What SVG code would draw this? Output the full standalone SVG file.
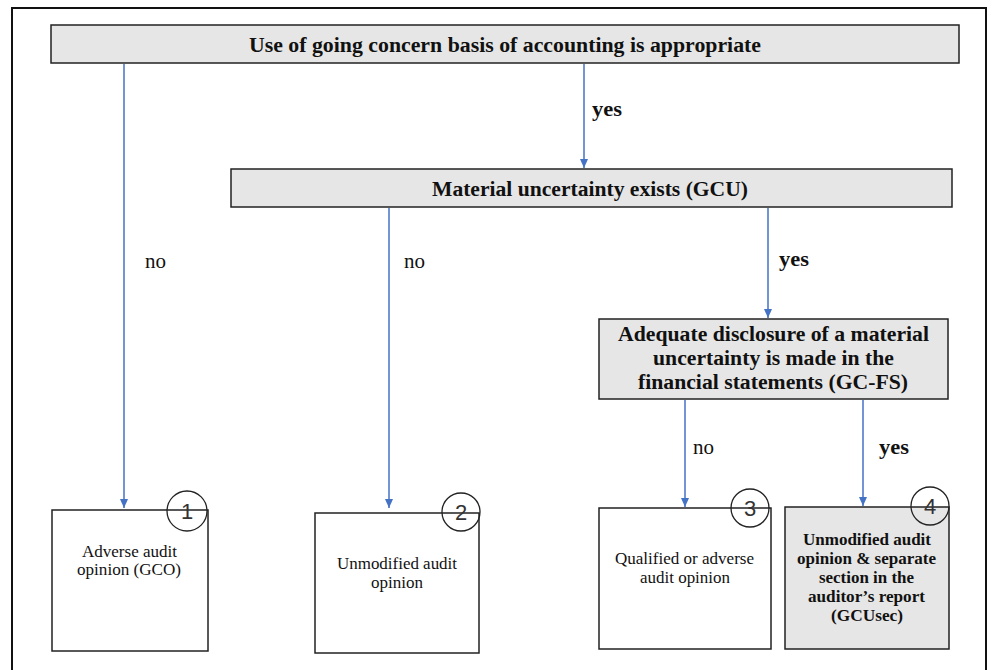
<svg xmlns="http://www.w3.org/2000/svg" width="992" height="670" viewBox="0 0 992 670">
<style>
.frame{fill:#fff;stroke:#111;stroke-width:2}
.box{fill:#fff;stroke:#222;stroke-width:1.5}
.grey{fill:#e6e6e6;stroke:#222;stroke-width:1.5}
.conn{stroke:#4472c4;stroke-width:1.5;fill:none}
.t{fill:#111;text-anchor:middle}
.hb{font-size:20.5px;font-weight:bold}
.lab{fill:#111;font-size:20px}
.sm{font-size:16px}
.num{font-size:22px;fill:#333;text-anchor:middle}
.circ{fill:none;stroke:#222;stroke-width:1.3}
</style>
<defs>
<marker id="ah" markerWidth="10" markerHeight="10" refX="9" refY="5" orient="auto" markerUnits="userSpaceOnUse">
<path d="M0,1 L9,5 L0,9 Z" fill="#4472c4"/>
</marker>
</defs>
<rect class="frame" x="12" y="8" width="974" height="664"/>
<g id="connectors">
<line class="conn" x1="124" y1="64" x2="124" y2="508" marker-end="url(#ah)"/>
<line class="conn" x1="584" y1="64" x2="584" y2="168" marker-end="url(#ah)"/>
<line class="conn" x1="389" y1="208" x2="389" y2="508" marker-end="url(#ah)"/>
<line class="conn" x1="768" y1="208" x2="768" y2="318" marker-end="url(#ah)"/>
<line class="conn" x1="685" y1="400" x2="685" y2="507" marker-end="url(#ah)"/>
<line class="conn" x1="863" y1="400" x2="863" y2="506" marker-end="url(#ah)"/>
<text class="lab" font-family="Liberation Serif" x="592" y="116" font-weight="bold" textLength="30" lengthAdjust="spacingAndGlyphs">yes</text>
<text class="lab" font-family="Liberation Serif" x="145" y="268" textLength="21" lengthAdjust="spacingAndGlyphs">no</text>
<text class="lab" font-family="Liberation Serif" x="404" y="268" textLength="21" lengthAdjust="spacingAndGlyphs">no</text>
<text class="lab" font-family="Liberation Serif" x="779" y="266" font-weight="bold" textLength="30" lengthAdjust="spacingAndGlyphs">yes</text>
<text class="lab" font-family="Liberation Serif" x="693" y="454" textLength="21" lengthAdjust="spacingAndGlyphs">no</text>
<text class="lab" font-family="Liberation Serif" x="879" y="454" font-weight="bold" textLength="30" lengthAdjust="spacingAndGlyphs">yes</text>
</g>
<g id="n-gc">
<rect class="grey" x="51" y="25" width="908" height="38"/>
<text class="t hb" font-family="Liberation Serif" x="505" y="52" textLength="512" lengthAdjust="spacingAndGlyphs">Use of going concern basis of accounting is appropriate</text>
</g>
<g id="n-gcu">
<rect class="grey" x="231" y="169" width="721" height="38"/>
<text class="t hb" font-family="Liberation Serif" x="590" y="196" textLength="316" lengthAdjust="spacingAndGlyphs">Material uncertainty exists (GCU)</text>
</g>
<g id="n-gcfs">
<rect class="grey" x="599" y="319" width="349" height="80"/>
<text class="t hb" font-family="Liberation Serif" x="773.5" y="341" textLength="311" lengthAdjust="spacingAndGlyphs">Adequate disclosure of a material</text>
<text class="t hb" font-family="Liberation Serif" x="773.5" y="365" textLength="241" lengthAdjust="spacingAndGlyphs">uncertainty is made in the</text>
<text class="t hb" font-family="Liberation Serif" x="773" y="389" textLength="270" lengthAdjust="spacingAndGlyphs">financial statements (GC-FS)</text>
</g>
<g id="n1">
<rect class="box" x="52" y="510" width="156" height="141"/>
<circle class="circ" cx="187" cy="511" r="20"/>
<text class="num" font-family="Liberation Sans" x="187" y="519">1</text>
<text class="t sm" font-family="Liberation Serif" x="129.5" y="557" textLength="95" lengthAdjust="spacingAndGlyphs">Adverse audit</text>
<text class="t sm" font-family="Liberation Serif" x="129" y="575" textLength="104" lengthAdjust="spacingAndGlyphs">opinion (GCO)</text>
</g>
<g id="n2">
<rect class="box" x="315" y="513" width="164" height="140"/>
<circle class="circ" cx="461" cy="512" r="19"/>
<text class="num" font-family="Liberation Sans" x="461" y="520">2</text>
<text class="t sm" font-family="Liberation Serif" x="397" y="569" textLength="120" lengthAdjust="spacingAndGlyphs">Unmodified audit</text>
<text class="t sm" font-family="Liberation Serif" x="397" y="588" textLength="52" lengthAdjust="spacingAndGlyphs">opinion</text>
</g>
<g id="n3">
<rect class="box" x="599" y="508" width="172" height="141"/>
<circle class="circ" cx="750" cy="508" r="19"/>
<text class="num" font-family="Liberation Sans" x="750" y="516">3</text>
<text class="t sm" font-family="Liberation Serif" x="684.5" y="564" textLength="139" lengthAdjust="spacingAndGlyphs">Qualified or adverse</text>
<text class="t sm" font-family="Liberation Serif" x="685" y="583" textLength="90" lengthAdjust="spacingAndGlyphs">audit opinion</text>
</g>
<g id="n4">
<rect class="grey" x="785" y="507" width="164" height="142"/>
<circle class="circ" cx="930" cy="506" r="19"/>
<text class="num" font-family="Liberation Sans" x="930" y="514">4</text>
<text class="t sm" font-family="Liberation Serif" x="867" y="545" font-weight="bold" textLength="128" lengthAdjust="spacingAndGlyphs">Unmodified audit</text>
<text class="t sm" font-family="Liberation Serif" x="866.5" y="564" font-weight="bold" textLength="139" lengthAdjust="spacingAndGlyphs">opinion &amp; separate</text>
<text class="t sm" font-family="Liberation Serif" x="866.5" y="583" font-weight="bold" textLength="95" lengthAdjust="spacingAndGlyphs">section in the</text>
<text class="t sm" font-family="Liberation Serif" x="866.5" y="602" font-weight="bold" textLength="117" lengthAdjust="spacingAndGlyphs">auditor’s report</text>
<text class="t sm" font-family="Liberation Serif" x="867" y="621" font-weight="bold" textLength="72" lengthAdjust="spacingAndGlyphs">(GCUsec)</text>
</g>
</svg>
